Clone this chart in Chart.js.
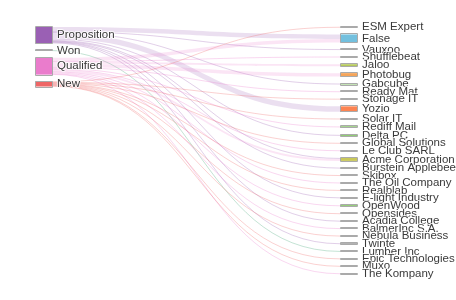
<!DOCTYPE html>
<html>
<head>
<meta charset="utf-8">
<script src="https://cdn.jsdelivr.net/npm/chart.js@4"></script>
<style>
  html, body { margin: 0; padding: 0; background: #fff; }
  #wrap { width: 456px; height: 300px; }
</style>
</head>
<body>
<div id="wrap"><canvas id="myChart"></canvas></div>
<script>
// stages (left column)
const stages = ['Proposition', 'Won', 'Qualified', 'New']
const stageColors = ['#9a60b4', '#3ba272', '#ea7ccc', '#ee6666']

// customers (right column)
const customers = ['ESM Expert', 'False', 'Vauxoo', 'Shufflebeat', 'Jaloo', 'Photobug', 'Gabcube',
  'Ready Mat', 'Stonage IT', 'Yozio', 'Solar IT', 'Rediff Mail', 'Delta PC', 'Global Solutions',
  'Le Club SARL', 'Acme Corporation', 'Burstein Applebee', 'Skibox', 'The Oil Company', 'Realblab',
  'E-light Industry', 'OpenWood', 'Opensides', 'Acadia College', 'BalmerInc S.A.', 'Nebula Business',
  'Twinte', 'Lumber Inc', 'Epic Technologies', 'Muxo', 'The Kompany']
const customerColors = ['#aaa', '#73c0de', '#aaa', '#aaa', '#b5c95a', '#f5a55a', '#91cc75',
  '#aaa', '#aaa', '#fc8452', '#aaa', '#91cc75', '#91cc75', '#aaa',
  '#aaa', '#c9c85a', '#aaa', '#aaa', '#aaa', '#aaa',
  '#aaa', '#91cc75', '#aaa', '#aaa', '#aaa', '#aaa',
  '#999', '#aaa', '#aaa', '#aaa', '#aaa']

// flow from each stage to each customer (same order as customers)
const fromProposition = [0, 9, 1, 0, 0, 0, 2, 0, 0, 11, 0, 0, 3, 0, 0, 2, 1, 0, 0, 0, 1, 0, 0, 1, 0, 0, 2, 0, 0, 0, 0]
const fromWon         = [0, 0, 0, 0, 0, 0, 0, 0, 0, 0, 0, 0, 0, 0, 0, 0, 0, 0, 0, 0, 0, 0, 0, 0, 0, 0, 0, 1, 0, 0, 0]
const fromQualified   = [0, 7, 0, 1, 4, 7, 0, 1, 0, 0, 0, 3, 0, 0, 1, 4, 0, 0, 1, 0, 0, 3, 0, 0, 1, 0, 0, 0, 0, 0, 1]
const fromNew         = [1, 0, 0, 0, 0, 0, 0, 0, 1, 0, 1, 0, 0, 1, 0, 0, 0, 1, 0, 1, 0, 0, 1, 0, 0, 1, 0, 0, 1, 1, 0]
const flows = [fromProposition, fromWon, fromQualified, fromNew]

const GAP = 14 // gap between nodes, in value units
const NODE_W = 17

// simple stacked layout in value units
const sum = a => a.reduce((s, v) => s + v, 0)
const stageTotals = flows.map(sum)
const customerTotals = customers.map((c, j) => flows.reduce((s, f) => s + f[j], 0))
const total = sum(stageTotals)
const yMax = total + (customers.length - 1) * GAP

function stack(values) {
  let y = 0
  return values.map(v => { const n = { y0: y, y1: y + v }; y += v + GAP; return n })
}
const leftNodes = stack(stageTotals)
const rightNodes = stack(customerTotals)

// link offsets: at the stage side ordered by customer, at the customer side ordered by stage
const links = []
const inOffset = customers.map(() => 0)
flows.forEach((f, i) => {
  let out = 0
  f.forEach((v, j) => {
    if (!v) return
    links.push({ s: i, t: j, v: v, sy: leftNodes[i].y0 + out })
    out += v
  })
})
stages.forEach((s, i) => {
  links.filter(l => l.s === i).forEach(l => {
    l.ty = rightNodes[l.t].y0 + inOffset[l.t]
    inOffset[l.t] += l.v
  })
})

function rgba(hex, a) {
  let h = hex.slice(1)
  if (h.length === 3) h = h.split('').map(c => c + c).join('')
  const n = parseInt(h, 16)
  return `rgba(${n >> 16},${(n >> 8) & 255},${n & 255},${a})`
}

const sankeyPlugin = {
  id: 'sankey',
  afterDatasetsDraw(chart) {
    const { ctx, scales: { x, y } } = chart
    const xl = x.getPixelForValue(0)
    const xr = x.getPixelForValue(1)
    const x0 = xl + NODE_W
    const xm = (x0 + xr) / 2
    ctx.save()
    // links
    links.forEach(l => {
      const a0 = y.getPixelForValue(l.sy), a1 = y.getPixelForValue(l.sy + l.v)
      const b0 = y.getPixelForValue(l.ty), b1 = y.getPixelForValue(l.ty + l.v)
      const w = a1 - a0
      const col = stageColors[l.s]
      if (w < 1.5) {
        const am = (a0 + a1) / 2, bm = (b0 + b1) / 2
        ctx.beginPath()
        ctx.moveTo(x0, am)
        ctx.bezierCurveTo(xm, am, xm, bm, xr, bm)
        ctx.strokeStyle = rgba(col, 0.3)
        ctx.lineWidth = 1
        ctx.stroke()
      } else {
        ctx.beginPath()
        ctx.moveTo(x0, a0)
        ctx.bezierCurveTo(xm, a0, xm, b0, xr, b0)
        ctx.lineTo(xr, b1)
        ctx.bezierCurveTo(xm, b1, xm, a1, x0, a1)
        ctx.closePath()
        ctx.fillStyle = rgba(col, 0.2)
        ctx.fill()
      }
    })
    // nodes and labels
    ctx.font = "11.5px 'Liberation Sans', Arial, sans-serif"
    ctx.textBaseline = 'middle'
    ctx.lineJoin = 'round'
    const drawNode = (px, n, color, label) => {
      const t = y.getPixelForValue(n.y0), b = y.getPixelForValue(n.y1)
      ctx.fillStyle = color
      ctx.fillRect(px, t, NODE_W, b - t)
      ctx.strokeStyle = '#aaa'
      ctx.lineWidth = 1
      ctx.strokeRect(px + 0.5, Math.round(t) - 0.5, NODE_W, Math.max(Math.round(b - t), 0) + 1)
      const cy = (t + b) / 2
      ctx.strokeStyle = 'rgba(255,255,255,0.8)'
      ctx.lineWidth = 2
      ctx.strokeText(label, px + NODE_W + 5, cy)
      ctx.fillStyle = '#3a3a3a'
      ctx.fillText(label, px + NODE_W + 5, cy)
    }
    stages.forEach((s, i) => drawNode(xl, leftNodes[i], stageColors[i], s))
    customers.forEach((c, j) => drawNode(xr, rightNodes[j], customerColors[j], c))
    ctx.restore()
  }
}

// node centres, kept as an invisible dataset so both scales are fed from the data
const centres = [
  ...leftNodes.map(n => ({ x: 0, y: (n.y0 + n.y1) / 2 })),
  ...rightNodes.map(n => ({ x: 1, y: (n.y0 + n.y1) / 2 }))
]

new Chart(document.getElementById('myChart'), {
  type: 'scatter',
  data: { datasets: [{ data: centres, pointRadius: 0, pointHoverRadius: 0 }] },
  options: {
    responsive: true,
    maintainAspectRatio: false,
    animation: false,
    layout: { padding: { left: 35, right: 116, top: 27, bottom: 26 } },
    scales: {
      x: { type: 'linear', min: 0, max: 1, display: false },
      y: { type: 'linear', min: 0, max: yMax, reverse: true, display: false }
    },
    plugins: { legend: { display: false }, tooltip: { enabled: false } }
  },
  plugins: [sankeyPlugin]
})
</script>
</body>
</html>
